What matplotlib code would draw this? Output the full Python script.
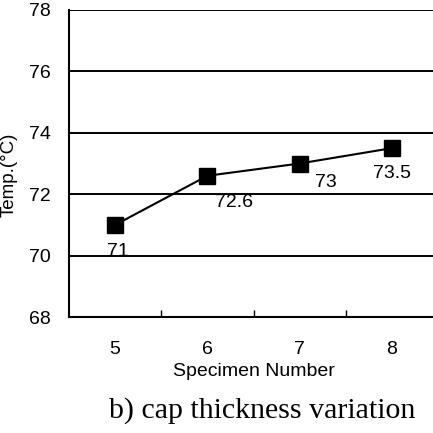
import matplotlib
matplotlib.use("Agg")
import matplotlib.pyplot as plt
from matplotlib.ticker import FixedLocator

categories = ["5", "6", "7", "8"]
temps = [71, 72.6, 73, 73.5]
value_labels = ["71", "72.6", "73", "73.5"]
yticks = [68, 70, 72, 74, 76, 78]
label_offsets = [(2, -19), (19, -19), (19, -14), (0, -18)]

plt.rcParams['font.family'] = ['Liberation Sans', 'DejaVu Sans']

fig = plt.figure(figsize=(4.33, 4.33), dpi=100)
ax = fig.add_axes([69/433, 1-317/433, (438-69)/433, (317-10)/433])

x = list(range(len(categories)))
ax.plot(x, temps, color='black', lw=1.5, marker='s', ms=11,
        mfc='black', mec='black', zorder=3)
for xi, yi, txt, off in zip(x, temps, value_labels, label_offsets):
    ax.annotate(txt, (xi, yi), xytext=off, textcoords='offset points',
                ha='center', va='center', fontsize=14, color='black')

ax.set_xlim(-0.5, len(categories) - 0.5)
ax.set_ylim(68, 78)
ax.set_yticks(yticks)
ax.set_xticks(x)
ax.set_xticklabels(categories)
ax.xaxis.set_minor_locator(FixedLocator([0.5, 1.5, 2.5]))
ax.tick_params(axis='x', which='major', length=0, pad=17, labelsize=14)
ax.tick_params(axis='x', which='minor', length=5, width=1, direction='in')
ax.tick_params(axis='y', length=0, pad=13, labelsize=14)

for yv in yticks[1:]:
    ax.axhline(yv, color='black', lw=1.4, zorder=1)

for s in ['top', 'right']:
    ax.spines[s].set_visible(False)
ax.spines['left'].set_linewidth(1.5)
ax.spines['bottom'].set_linewidth(1.5)

ax.set_xlabel("Specimen Number", fontsize=14, labelpad=4)
ax.set_ylabel("Temp.(°C)", fontsize=13.5)
ax.yaxis.set_label_coords(-0.14, 0.464)

fig.text(262/433, 1-411/433, "b) cap thickness variation",
         ha='center', va='center', fontsize=21.5,
         family=['Liberation Serif', 'DejaVu Serif'])

fig.savefig("out.png", dpi=100)
